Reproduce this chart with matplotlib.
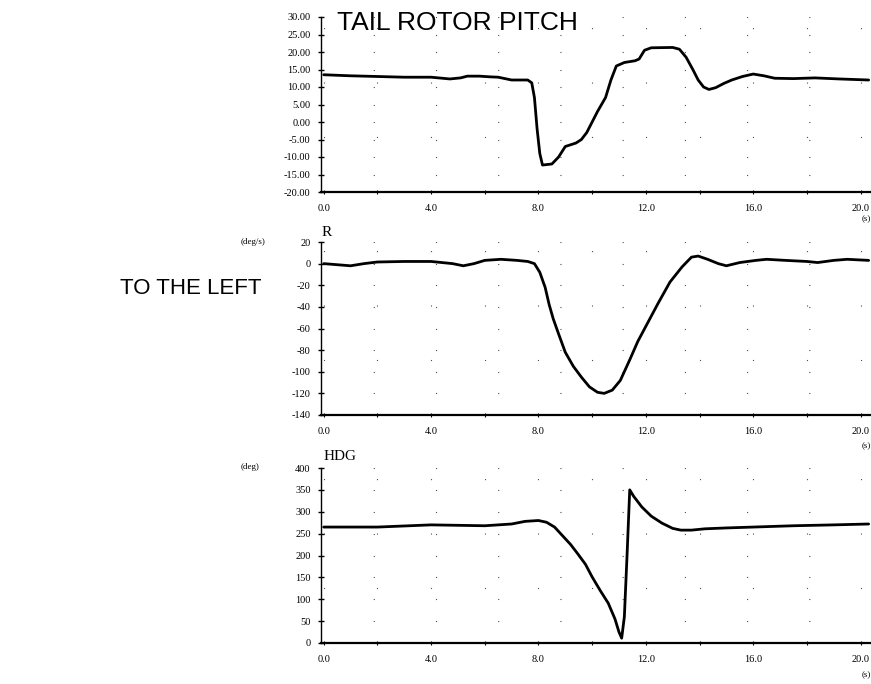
import numpy as np
import matplotlib
matplotlib.use("Agg")
from matplotlib import pyplot as plt
from matplotlib.ticker import MultipleLocator

# tail rotor pitch (deg) vs time (s)
t_pitch = [0.0, 1.0, 2.0, 3.0, 4.0, 4.7, 5.1, 5.35, 5.8, 6.2, 6.5, 7.0, 7.6, 7.75, 7.85, 7.95,
           8.05, 8.15, 8.5, 8.75, 9.0, 9.4, 9.6, 9.8, 10.0, 10.2, 10.35, 10.5, 10.7, 10.9,
           11.2, 11.6, 11.75, 11.95, 12.2, 13.0, 13.25, 13.5, 13.75, 13.95, 14.15, 14.35,
           14.6, 14.9, 15.2, 15.6, 16.0, 16.4, 16.8, 17.5, 18.3, 19.2, 20.3]
pitch = [13.5, 13.2, 13.0, 12.8, 12.8, 12.3, 12.6, 13.1, 13.1, 12.9, 12.8, 12.0, 12.0, 11.2, 7.0, -2.0,
         -9.0, -12.3, -12.0, -10.0, -7.0, -6.0, -5.0, -3.0, 0.0, 3.0, 5.0, 7.0, 12.0, 16.0,
         17.0, 17.5, 18.0, 20.5, 21.2, 21.3, 20.8, 18.5, 15.0, 12.0, 10.0, 9.3,
         9.8, 11.0, 12.0, 13.0, 13.7, 13.2, 12.5, 12.4, 12.6, 12.3, 12.0]

# yaw rate R (deg/s)
t_r = [0.0, 0.5, 1.0, 1.5, 2.0, 3.0, 4.0, 4.8, 5.2, 5.6, 6.0, 6.6, 7.2, 7.6, 7.85, 8.05,
       8.25, 8.4, 8.55, 8.75, 9.0, 9.3, 9.6, 9.9, 10.2, 10.45, 10.75, 11.05, 11.4, 11.7,
       12.0, 12.45, 12.9, 13.35, 13.7, 13.95, 14.3, 14.7, 15.0, 15.5, 16.1, 16.5, 17.2,
       18.0, 18.4, 19.0, 19.5, 20.3]
r_rate = [0, -1, -2, 0, 1.5, 2, 2, 0, -2, 0, 3, 4, 3, 2, 0, -8,
          -22, -38, -51, -65, -82, -95, -105, -114, -119, -120, -117, -108, -89, -72,
          -58, -37, -17, -3, 6, 7, 4, 0, -2, 1, 3, 4, 3,
          2, 1, 3, 4, 3]

# heading HDG (deg)
t_hdg = [0.0, 2.0, 4.0, 6.0, 7.0, 7.5, 8.0, 8.3, 8.6, 8.9, 9.2, 9.45, 9.75, 10.0, 10.3,
         10.6, 10.85, 11.0, 11.1, 11.2, 11.3, 11.4, 11.55, 11.85, 12.2, 12.6, 13.0, 13.3,
         13.7, 14.2, 15.0, 16.0, 17.5, 19.0, 20.3]
hdg = [265, 265, 270, 268, 272, 278, 280, 276, 265, 245, 225, 205, 180, 151, 120,
       91, 55, 25, 11, 60, 200, 350, 335, 311, 290, 274, 262, 258,
       258, 261, 263, 265, 268, 270, 272]

x_ticks = [0, 4, 8, 12, 16, 20]
x_ticklabels = ["0.0", "4.0", "8.0", "12.0", "16.0", "20.0"]

pitch_ticks = [30, 25, 20, 15, 10, 5, 0, -5, -10, -15, -20]
pitch_labels = ["30.00", "25.00", "20.00", "15.00", "10.00", "5.00", "0.00",
                "-5.00", "-10.00", "-15.00", "-20.00"]
r_ticks = [20, 0, -20, -40, -60, -80, -100, -120, -140]
hdg_ticks = [400, 350, 300, 250, 200, 150, 100, 50, 0]

W, H = 871, 684
fig = plt.figure(figsize=(W / 100, H / 100), dpi=100)

serif = "Liberation Serif"
sans = "Liberation Sans"

def px(x, y):
    return x / W, 1 - y / H

def make_panel(top, bottom, t, y, yticks, ylabels, ylim):
    left, right = 321, 870
    ax = fig.add_axes([left / W, 1 - bottom / H, (right - left) / W, (bottom - top) / H])
    ax.plot(t, y, color="black", lw=2.0, solid_joinstyle="round", solid_capstyle="round")
    ax.set_xlim(-0.1, 20.35)
    ax.set_ylim(*ylim)
    for s in ["top", "right"]:
        ax.spines[s].set_visible(False)
    ax.spines["left"].set_linewidth(1.0)
    ax.spines["bottom"].set_linewidth(1.6)
    ax.set_xticks(x_ticks)
    ax.set_xticklabels(x_ticklabels, family=serif, fontsize=7.5)
    ax.xaxis.set_minor_locator(MultipleLocator(2))
    ax.set_yticks(yticks)
    ax.set_yticklabels(ylabels, family=serif, fontsize=7.5)
    ax.tick_params(axis="y", direction="inout", length=5, width=1.0, pad=5)
    ax.tick_params(axis="x", direction="inout", length=3, width=0.8, pad=7)
    ax.tick_params(axis="x", which="minor", direction="inout", length=3, width=0.8)
    # sparse dotted grid
    ax.grid(True, which="both", axis="x", color="0.3", lw=0.8, ls=(0, (1, 48)))
    ax.grid(True, which="major", axis="y", color="0.3", lw=0.8, ls=(9, (1, 55)))
    ax.set_axisbelow(True)
    return ax

ax1 = make_panel(17, 192, t_pitch, pitch, pitch_ticks, pitch_labels, (-20, 30))
ax2 = make_panel(242, 415, t_r, r_rate, r_ticks, [str(v) for v in r_ticks], (-140, 20))
ax3 = make_panel(468, 643, t_hdg, hdg, hdg_ticks, [str(v) for v in hdg_ticks], (0, 400))

# titles and units
fig.text(*px(337, 23), "TAIL ROTOR PITCH", family=sans, fontsize=19, va="center", ha="left")
fig.text(*px(327, 233), "R", family=serif, fontsize=11, va="center", ha="center")
fig.text(*px(324, 457), "HDG", family=serif, fontsize=11, va="center", ha="left")
fig.text(*px(253, 242), "(deg/s)", family=serif, fontsize=6.5, va="center", ha="center")
fig.text(*px(250, 467), "(deg)", family=serif, fontsize=6.5, va="center", ha="center")
for yy in (219, 446, 675):
    fig.text(*px(866, yy), "(s)", family=serif, fontsize=6.5, va="center", ha="center")

fig.text(*px(120, 288), "TO THE LEFT", family=sans, fontsize=16, va="center", ha="left")

fig.savefig("out.png", dpi=100, facecolor="white")
